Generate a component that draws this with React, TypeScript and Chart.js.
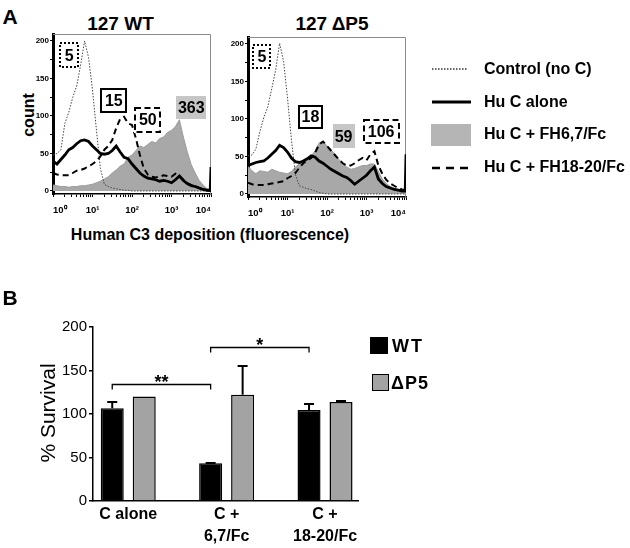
import React, { useEffect, useRef } from 'react';
import { Chart, registerables } from 'chart.js';
Chart.register(...registerables);

const FONT = '"Liberation Sans", Arial, Helvetica, sans-serif';

// ---------- Panel A data: flow cytometry histograms (x = log10 fluorescence channel) ----------
const channelDecades = [
  0, 0.1, 0.2, 0.3, 0.4, 0.5, 0.6, 0.7, 0.8, 0.9,
  1.0, 1.1, 1.2, 1.3, 1.4, 1.5, 1.6, 1.7, 1.8, 1.9,
  2.0, 2.1, 2.2, 2.3, 2.4, 2.5, 2.6, 2.7, 2.8, 2.9,
  3.0, 3.1, 3.2, 3.3, 3.4, 3.5, 3.6, 3.7, 3.8, 3.9, 3.98, 4.0,
];

// 127 WT
const wtControl = [
  48, 50, 55, 90, 105, 125, 140, 168, 200, 178,
  135, 81, 30, 9, 6, 4, 3, 2, 1, 1,
  0, 0, 0, 0, 0, 0, 0, 0, 0, 0,
  0, 0, 0, 0, 0, 0, 0, 0, 0, 0, 0, 0,
];
const wtHuCAlone = [
  40, 36, 42, 48, 55, 58, 63, 67, 68, 66,
  60, 55, 50, 49, 50, 54, 60, 52, 45, 43,
  36, 30, 24, 20, 17, 16, 15, 13, 14, 13,
  11, 15, 20, 14, 10, 7, 6, 4, 2, 1, 1, 32,
];
const wtFH67 = [
  8, 7, 6, 6, 5, 6, 6, 7, 7, 8,
  9, 11, 13, 16, 19, 24, 28, 33, 36, 45,
  48, 54, 60, 58, 62, 66, 64, 70, 72, 78,
  81, 86, 95, 72, 52, 35, 24, 14, 8, 3, 1, 1,
];
const wtFH1820 = [
  24, 22, 21, 21, 21, 24, 27, 28, 30, 33,
  36, 40, 46, 55, 60, 68, 84, 96, 99, 90,
  88, 70, 48, 30, 22, 19, 18, 19, 21, 20,
  19, 23, 20, 15, 10, 8, 7, 4, 2, 1, 0, 0,
];

// 127 ΔP5
const dp5Control = [
  51, 52, 60, 83, 102, 116, 140, 165, 201, 177,
  128, 72, 26, 11, 9, 7, 6, 4, 2, 1,
  0, 0, 0, 0, 0, 0, 0, 0, 0, 0,
  0, 0, 0, 0, 0, 0, 0, 0, 0, 0, 0, 0,
];
const dp5HuCAlone = [
  38, 40, 42, 43, 44, 48, 53, 58, 65, 62,
  56, 48, 43, 42, 44, 47, 51, 49, 44, 41,
  37, 33, 30, 27, 24, 22, 18, 13, 17, 21,
  25, 31, 36, 20, 14, 10, 8, 6, 5, 4, 4, 53,
];
const dp5FH67 = [
  37, 31, 27, 31, 30, 29, 33, 31, 29, 28,
  27, 30, 36, 40, 44, 47, 50, 58, 68, 70,
  64, 59, 53, 46, 41, 36, 33, 34, 36, 38,
  38, 40, 40, 30, 20, 14, 10, 8, 6, 4, 3, 3,
];
const dp5FH1820 = [
  15, 13, 12, 12, 12, 13, 14, 15, 16, 17,
  21, 24, 28, 35, 41, 45, 48, 55, 66, 70,
  64, 58, 52, 46, 41, 38, 38, 41, 45, 48,
  45, 53, 57, 38, 27, 19, 14, 11, 8, 6, 5, 5,
];

const histYTicks = [0, 12.5, 25, 37.5, 50, 62.5, 75, 87.5, 100, 112.5, 125, 137.5, 150, 162.5, 175, 187.5, 200];
const decadeLabels = ['10\u2070', '10\u00B9', '10\u00B2', '10\u00B3', '10\u2074'];

// median fluorescence labels shown in boxes
const wtMfiText = ['5', '15', '50', '363'];
const dp5MfiText = ['5', '18', '59', '106'];

// ---------- Panel B data ----------
const groupPositions = [0, 1, 2];
const groupLabels = [['C alone'], ['C +', '6,7/Fc'], ['C +', '18-20/Fc']];
const survivalWT = [106.5, 43.3, 104.6];
const survivalWTSem = [7.5, 0.5, 7];
const survivalDP5 = [120, 122, 113.8];
const survivalDP5Sem = [0, 33, 0.7];
const sigPairs = [[0, 1], [1, 2]];
const sigHeights = [135, 177];
const sigMarks = ['**', '*'];

type BoxKind = 'dotted' | 'solid' | 'dashed' | 'gray';
type BoxSpec = { decade: number; count: number; kind: BoxKind; w: number; h: number };

const wtBoxLayout: BoxSpec[] = [
  { decade: 0.41, count: 181, kind: 'dotted', w: 20, h: 26 },
  { decade: 1.54, count: 121, kind: 'solid', w: 27, h: 25 },
  { decade: 2.4, count: 95, kind: 'dashed', w: 27, h: 26 },
  { decade: 3.5, count: 111, kind: 'gray', w: 30, h: 23 },
];
const dp5BoxLayout: BoxSpec[] = [
  { decade: 0.35, count: 183, kind: 'dotted', w: 19, h: 25 },
  { decade: 1.58, count: 103, kind: 'solid', w: 25, h: 24 },
  { decade: 2.42, count: 77, kind: 'gray', w: 22, h: 24 },
  { decade: 3.37, count: 83, kind: 'dashed', w: 37, h: 25 },
];

// log-axis tick positions: 1..9 x 10^d for each decade, plus 10^4
const logTicks = (): { value: number }[] => {
  const out: { value: number }[] = [];
  for (let d = 0; d < 4; d++) for (let k = 1; k <= 9; k++) out.push({ value: k * Math.pow(10, d) });
  out.push({ value: 10000 });
  return out;
};

const framePlugin = {
  id: 'frame',
  beforeDatasetsDraw(chart: any) {
    const { ctx, chartArea } = chart;
    const { left, right, top, bottom } = chartArea;
    ctx.save();
    ctx.strokeStyle = '#8a8a8a';
    ctx.lineWidth = 1;
    ctx.beginPath();
    ctx.moveTo(left, top + 0.5);
    ctx.lineTo(right - 0.5, top + 0.5);
    ctx.lineTo(right - 0.5, bottom);
    ctx.stroke();
    ctx.restore();
  },
};

const makeBoxPlugin = (texts: string[], layout: BoxSpec[]) => ({
  id: 'mfiBoxes',
  afterDatasetsDraw(chart: any) {
    const { ctx, scales } = chart;
    ctx.save();
    layout.forEach((b, i) => {
      const cx = scales.x.getPixelForValue(Math.pow(10, b.decade));
      const cy = scales.y.getPixelForValue(b.count);
      const l = Math.round(cx - b.w / 2);
      const t = Math.round(cy - b.h / 2);
      if (b.kind === 'gray') {
        ctx.fillStyle = '#c6c6c6';
        ctx.fillRect(l, t, b.w, b.h);
      } else {
        ctx.fillStyle = '#fff';
        ctx.fillRect(l, t, b.w, b.h);
        ctx.lineWidth = 2;
        ctx.strokeStyle = '#000';
        ctx.setLineDash(b.kind === 'dotted' ? [2, 2] : b.kind === 'dashed' ? [6, 3.5] : []);
        ctx.strokeRect(l + 1, t + 1, b.w - 2, b.h - 2);
        ctx.setLineDash([]);
      }
      ctx.fillStyle = '#000';
      ctx.font = `bold 16px ${FONT}`;
      ctx.textAlign = 'center';
      ctx.textBaseline = 'middle';
      ctx.fillText(texts[i], cx, cy + 1);
    });
    ctx.restore();
  },
});

function histConfig(control: number[], huC: number[], fh67: number[], fh1820: number[], texts: string[], layout: BoxSpec[]): any {
  const pts = (vals: number[]) => channelDecades.map((d, i) => ({ x: Math.pow(10, d), y: vals[i] }));
  return {
    type: 'line',
    data: {
      datasets: [
        { label: 'Hu C alone', data: pts(huC), borderColor: '#000', borderWidth: 2.8, order: 1, fill: false },
        { label: 'Hu C + FH18-20/Fc', data: pts(fh1820), borderColor: '#000', borderWidth: 2, borderDash: [6, 4], order: 2, fill: false },
        { label: 'Control (no C)', data: pts(control), borderColor: '#444', borderWidth: 1, borderDash: [1.5, 1.5], order: 3, fill: false },
        { label: 'Hu C + FH6,7/Fc', data: pts(fh67), borderColor: '#9c9c9c', borderWidth: 1, backgroundColor: '#a8a8a8', fill: 'origin', order: 4 },
      ],
    },
    options: {
      responsive: false,
      animation: false,
      events: [],
      layout: { padding: { left: 0, right: 14, top: 4, bottom: 0 } },
      elements: { point: { radius: 0 }, line: { tension: 0 } },
      plugins: { legend: { display: false }, tooltip: { enabled: false } },
      scales: {
        x: {
          type: 'logarithmic',
          min: 1,
          max: 10000,
          z: 1,
          border: { display: true, color: '#000', width: 1.5 },
          grid: { display: true, drawOnChartArea: false, drawTicks: true, tickLength: 3, color: '#000', lineWidth: 1 },
          afterBuildTicks: (s: any) => { s.ticks = logTicks(); },
          ticks: {
            autoSkip: false,
            maxRotation: 0,
            minRotation: 0,
            align: 'inner',
            padding: 8,
            color: '#000',
            font: { family: FONT, size: 9.5, weight: 'bold' },
            callback: (v: number) => {
              const l = Math.log10(v);
              const r = Math.round(l);
              return Math.abs(l - r) < 1e-6 && r >= 0 && r <= 4 ? decadeLabels[r] : '';
            },
          },
          afterFit: (s: any) => { s.height = 26; s.paddingLeft = 0; s.paddingRight = 0; },
        },
        y: {
          type: 'linear',
          min: -4,
          max: 209.3,
          z: 1,
          border: { display: true, color: '#000', width: 3 },
          grid: { display: true, drawOnChartArea: false, drawTicks: true, tickLength: 3, color: '#000', lineWidth: 1 },
          afterBuildTicks: (s: any) => { s.ticks = histYTicks.map((v) => ({ value: v })); },
          ticks: {
            padding: 1,
            color: '#000',
            font: { family: FONT, size: 8, weight: 'bold' },
            callback: (v: number) => (v % 50 === 0 ? String(v) : ''),
          },
          afterFit: (s: any) => { s.width = 53; s.paddingTop = 0; s.paddingBottom = 0; },
        },
      },
    },
    plugins: [framePlugin, makeBoxPlugin(texts, layout)],
  };
}

const errorBarPlugin = {
  id: 'errorBars',
  afterDatasetsDraw(chart: any) {
    const { ctx, scales } = chart;
    const vals = [survivalWT, survivalDP5];
    const sems = [survivalWTSem, survivalDP5Sem];
    ctx.save();
    ctx.strokeStyle = '#000';
    ctx.lineWidth = 2;
    vals.forEach((series, di) => {
      const meta = chart.getDatasetMeta(di);
      meta.data.forEach((bar: any, i: number) => {
        const e = sems[di][i];
        if (!e) return;
        const yTop = Math.round(scales.y.getPixelForValue(series[i] + e));
        ctx.beginPath();
        ctx.moveTo(bar.x, bar.y);
        ctx.lineTo(bar.x, yTop);
        ctx.moveTo(bar.x - 5, yTop);
        ctx.lineTo(bar.x + 5, yTop);
        ctx.stroke();
      });
    });
    ctx.restore();
  },
};

const significancePlugin = {
  id: 'significance',
  afterDatasetsDraw(chart: any) {
    const { ctx, scales } = chart;
    const meta = chart.getDatasetMeta(0);
    ctx.save();
    ctx.strokeStyle = '#000';
    ctx.lineWidth = 1.3;
    sigPairs.forEach(([a, b], k) => {
      const x1 = meta.data[a].x;
      const x2 = meta.data[b].x;
      const yy = Math.round(scales.y.getPixelForValue(sigHeights[k])) + 0.5;
      ctx.beginPath();
      ctx.moveTo(x1, yy + 5);
      ctx.lineTo(x1, yy);
      ctx.lineTo(x2, yy);
      ctx.lineTo(x2, yy + 5);
      ctx.stroke();
      ctx.fillStyle = '#000';
      ctx.font = `bold 18px ${FONT}`;
      ctx.textAlign = 'center';
      ctx.textBaseline = 'alphabetic';
      ctx.fillText(sigMarks[k], (x1 + x2) / 2, yy + 3);
    });
    ctx.restore();
  },
};

function barConfig(): any {
  return {
    type: 'bar',
    data: {
      datasets: [
        {
          label: 'WT',
          data: groupPositions.map((x, i) => ({ x, y: survivalWT[i] })),
          backgroundColor: '#000',
          borderColor: '#000',
          borderWidth: 1.5,
        },
        {
          label: '\u0394P5',
          data: groupPositions.map((x, i) => ({ x, y: survivalDP5[i] })),
          backgroundColor: '#a3a3a3',
          borderColor: '#000',
          borderWidth: 1.5,
        },
      ],
    },
    options: {
      responsive: false,
      animation: false,
      events: [],
      datasets: { bar: { categoryPercentage: 0.65, barPercentage: 0.72 } },
      layout: { padding: { left: 0, right: 22, top: 27, bottom: 0 } },
      plugins: { legend: { display: false }, tooltip: { enabled: false } },
      scales: {
        x: {
          type: 'linear',
          min: -0.358,
          max: 2.335,
          offset: false,
          border: { display: true, color: '#000', width: 1.5 },
          grid: { display: true, drawOnChartArea: false, drawTicks: false, offset: false },
          afterBuildTicks: (s: any) => { s.ticks = groupPositions.map((v) => ({ value: v })); },
          ticks: {
            autoSkip: false,
            maxRotation: 0,
            minRotation: 0,
            padding: 3,
            color: '#000',
            font: { family: FONT, size: 16, weight: 'bold', lineHeight: 1.35 },
            callback: (v: number) => groupLabels[Math.round(v)] ?? '',
          },
          afterFit: (s: any) => { s.height = 47; s.paddingLeft = 0; s.paddingRight = 0; },
        },
        y: {
          type: 'linear',
          min: 0,
          max: 200,
          border: { display: true, color: '#000', width: 1.5 },
          grid: { display: true, drawOnChartArea: false, drawTicks: true, tickLength: 4, color: '#000', lineWidth: 1.5 },
          ticks: { stepSize: 50, padding: 2, color: '#000', font: { family: FONT, size: 15 } },
          afterFit: (s: any) => { s.width = 93; s.paddingTop = 0; s.paddingBottom = 0; },
        },
      },
    },
    plugins: [errorBarPlugin, significancePlugin],
  };
}

const abs = (s: React.CSSProperties): React.CSSProperties => ({
  position: 'absolute',
  fontFamily: FONT,
  lineHeight: 1,
  whiteSpace: 'nowrap',
  color: '#000',
  margin: 0,
  ...s,
});
const centered = (x: number, y: number, s: React.CSSProperties): React.CSSProperties =>
  abs({ left: x, top: y, transform: 'translate(-50%, -50%)', ...s });
const leftMid = (x: number, y: number, s: React.CSSProperties): React.CSSProperties =>
  abs({ left: x, top: y, transform: 'translateY(-50%)', ...s });

export default function App() {
  const wtRef = useRef<HTMLCanvasElement>(null);
  const dpRef = useRef<HTMLCanvasElement>(null);
  const barRef = useRef<HTMLCanvasElement>(null);

  useEffect(() => {
    const charts: Chart[] = [];
    if (wtRef.current) charts.push(new Chart(wtRef.current, histConfig(wtControl, wtHuCAlone, wtFH67, wtFH1820, wtMfiText, wtBoxLayout)));
    if (dpRef.current) charts.push(new Chart(dpRef.current, histConfig(dp5Control, dp5HuCAlone, dp5FH67, dp5FH1820, dp5MfiText, dp5BoxLayout)));
    if (barRef.current) charts.push(new Chart(barRef.current, barConfig()));
    return () => charts.forEach((c) => c.destroy());
  }, []);

  const bold = (size: number): React.CSSProperties => ({ fontWeight: 'bold', fontSize: size });

  return (
    <div style={{ position: 'absolute', left: 0, top: 0, width: 630, height: 548, background: '#fff', overflow: 'hidden' }}>
      {/* Panel A */}
      <div style={centered(10, 16, bold(21))}>A</div>
      <div style={centered(120.5, 22.5, bold(19))}>127 WT</div>
      <div style={centered(332, 22.5, bold(19))}>127 {'\u0394'}P5</div>
      <div style={centered(29, 115, { ...bold(16), transform: 'translate(-50%, -50%) rotate(-90deg)' })}>count</div>
      <canvas ref={wtRef} width={225} height={190} style={{ position: 'absolute', left: 0, top: 30, width: 225, height: 190 }} />
      <canvas ref={dpRef} width={225} height={190} style={{ position: 'absolute', left: 195, top: 33, width: 225, height: 190 }} />
      <div style={centered(210, 235, bold(16))}>Human C3 deposition (fluorescence)</div>

      {/* Legend A */}
      <svg width={630} height={548} style={{ position: 'absolute', left: 0, top: 0, pointerEvents: 'none' }}>
        <line x1={432} y1={69} x2={468} y2={69} stroke="#333" strokeWidth={1.5} strokeDasharray="1.5 1.5" />
        <line x1={432} y1={102} x2={471} y2={102} stroke="#000" strokeWidth={3} />
        <rect x={431} y={124} width={40} height={22} fill="#b5b5b5" />
        <line x1={432} y1={168} x2={468} y2={168} stroke="#000" strokeWidth={2.5} strokeDasharray="8 6" />
      </svg>
      <div style={leftMid(484, 68.5, bold(16))}>Control (no C)</div>
      <div style={leftMid(484, 101.5, bold(16))}>Hu C alone</div>
      <div style={leftMid(484, 134, bold(16))}>Hu C + FH6,7/Fc</div>
      <div style={leftMid(484, 167, bold(16))}>Hu C + FH18-20/Fc</div>

      {/* Panel B */}
      <div style={centered(10, 297, bold(21))}>B</div>
      <div style={centered(47, 413, { fontSize: 21, transform: 'translate(-50%, -50%) rotate(-90deg)' })}>% Survival</div>
      <canvas ref={barRef} width={380} height={248} style={{ position: 'absolute', left: 0, top: 300, width: 380, height: 248 }} />

      {/* Legend B */}
      <div style={abs({ left: 370, top: 337, width: 18, height: 17, background: '#000' })} />
      <div style={leftMid(392, 346, { ...bold(18), letterSpacing: 2 })}>WT</div>
      <div style={abs({ left: 372, top: 374, width: 17, height: 17, background: '#a3a3a3', border: '1.5px solid #000', boxSizing: 'border-box' })} />
      <div style={leftMid(391, 383, { ...bold(18), letterSpacing: 1 })}>{'\u0394'}P5</div>
    </div>
  );
}
